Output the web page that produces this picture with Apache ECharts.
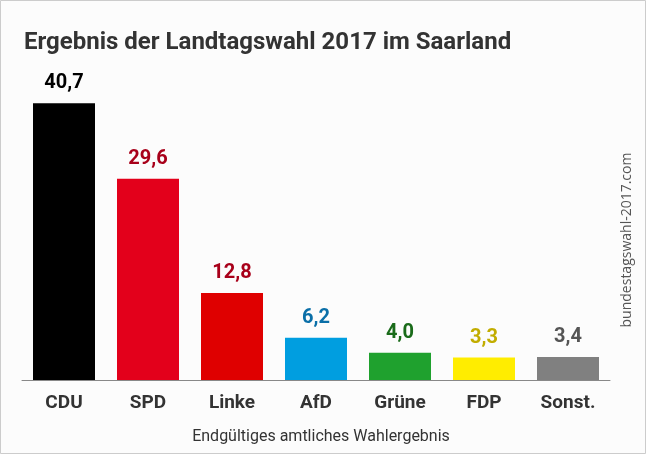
<!DOCTYPE html>
<html><head><meta charset="utf-8">
<script src="https://cdn.jsdelivr.net/npm/echarts@6/dist/echarts.min.js"></script>
<style>html,body{margin:0;padding:0;background:#fff}#c{width:646px;height:454px}</style>
</head><body><div id="c"></div>
<script>
const categories = ['CDU','SPD','Linke','AfD','Grüne','FDP','Sonst.'];
const values = [40.7, 29.6, 12.8, 6.2, 4.0, 3.3, 3.4];
const barColors = ['#000000','#e3001b','#df0000','#009ee0','#1fa12e','#ffed00','#808080'];
const labelColors = ['#000000','#a8001a','#a8001a','#0a6fa8','#1a6b1a','#c2ad00','#555555'];

const chart = echarts.init(document.getElementById('c'), null, {renderer:'canvas'});
chart.setOption({
  backgroundColor: '#fcfcfc',
  animation: false,
  textStyle: {fontFamily: 'Roboto'},
  title: [
    {text: 'Ergebnis der Landtagswahl 2017 im Saarland', left: 19, top: 26,
     textStyle: {fontFamily:'Roboto', fontWeight:'bold', fontSize: 24, color:'#333333'}},
    {text: 'Endgültiges amtliches Wahlergebnis', left: 316, top: 424, textAlign:'center',
     textStyle: {fontFamily:'Roboto', fontWeight:'normal', fontSize: 16, color:'#333333'}}
  ],
  graphic: [
    {type:'rect', shape:{x:0.5,y:0.5,width:645,height:453}, style:{fill:null, stroke:'#cccccc', lineWidth:1}, silent:true},
    {type:'text', x:627, y:240, rotation: Math.PI/2, style:{text:'bundestagswahl-2017.com', fill:'#555555', font:'14px "Open Sans"', textAlign:'center', textVerticalAlign:'middle'}}
  ],
  grid: {left: 22, right: 36, top: 74, bottom: 74, containLabel: false},
  xAxis: {
    type:'category', data: categories,
    axisLine: {lineStyle:{color:'#888888', width:1}},
    axisTick: {show:false},
    axisLabel: {fontFamily:'Roboto', fontWeight:'bold', fontSize:19, color:'#333333', margin: 14}
  },
  yAxis: {type:'value', min:0, max:45, show:false, splitLine:{show:false}},
  series: [{
    type:'bar', barWidth: 62,
    data: values.map((v,i)=>({value:v, itemStyle:{color:barColors[i]}, label:{color:labelColors[i]}})),
    label: {show:true, position:'top', distance: 10, fontFamily:'Roboto', fontWeight:'bold', fontSize:20,
      formatter: p => p.value.toFixed(1).replace('.', ',')}
  }]
});
</script></body></html>
